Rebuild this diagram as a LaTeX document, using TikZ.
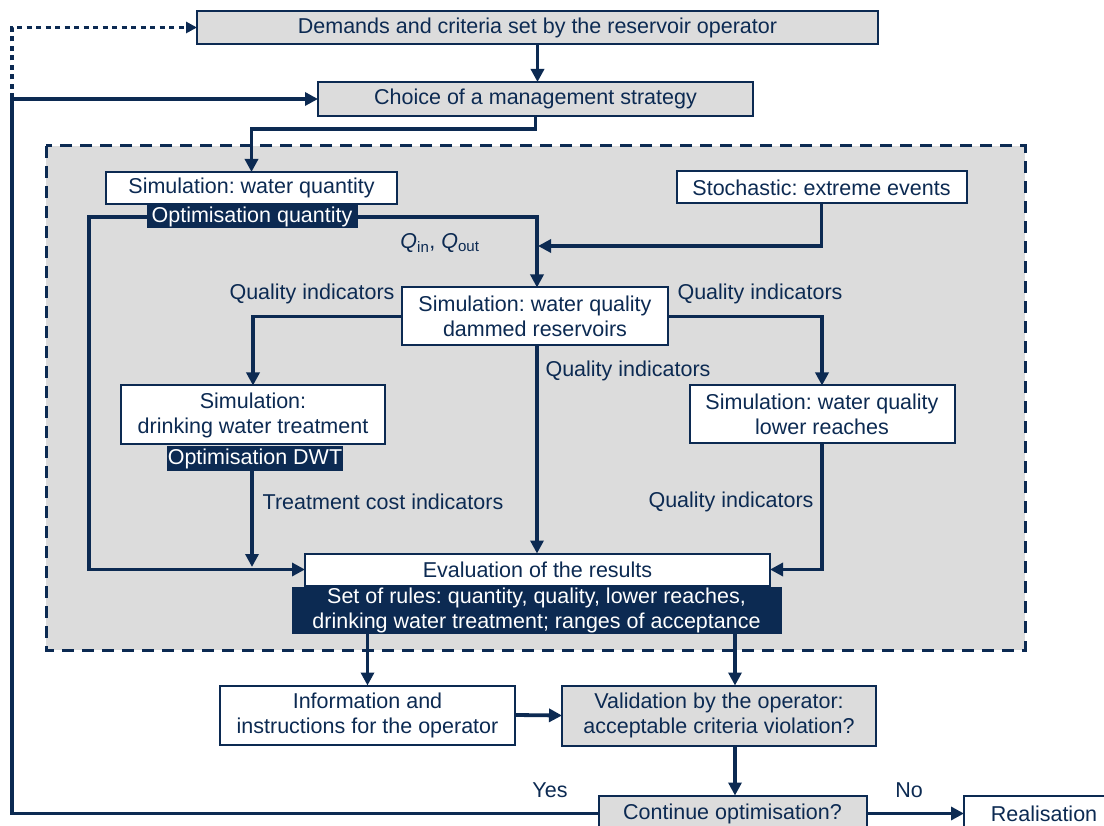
\documentclass[tikz,border=0pt]{standalone}
\usepackage{fontspec}
\setmainfont{Liberation Sans}
\usetikzlibrary{arrows.meta}
\definecolor{navy}{RGB}{12,42,82}
\definecolor{lgray}{RGB}{220,220,220}
\frenchspacing
\tikzset{
  box/.style={draw=navy, line width=2pt, text=navy, align=center, inner sep=0pt, outer sep=0pt},
  wbox/.style={box, fill=white},
  gbox/.style={box, fill=lgray},
  dbox/.style={fill=navy, text=white, align=center, inner sep=0pt, outer sep=0pt},
  conn/.style={draw=navy, line width=3.8pt},
  arr/.style={conn, -{Triangle[length=13pt,width=13pt]}},
  dotarr/.style={draw=navy, line width=3.8pt, dash pattern=on 5pt off 4.5pt, -{Triangle[length=11pt,width=11pt]}},
  lbl/.style={text=navy, inner sep=0pt}
}
\begin{document}
\begin{tikzpicture}[x=1pt,y=-1pt, font=\fontsize{21.5}{25}\selectfont]
\useasboundingbox (0,0) rectangle (1104,826);
\clip (0,0) rectangle (1104,826);
% dashed frame
\draw[fill=lgray, draw=navy, line width=3pt, dash pattern=on 12pt off 8pt] (46,146) rectangle (1025,650);

\node[gbox, minimum width=681pt, minimum height=33pt] (demands) at (537.5,27.5) {Demands and criteria set by the reservoir operator};
\node[gbox, minimum width=435pt, minimum height=34pt] (choice) at (535.5,99) {Choice of a management strategy};
\node[wbox, minimum width=291pt, minimum height=32pt] (simq) at (251.5,188) {Simulation: water quantity};
\node[dbox, minimum width=211pt, minimum height=23pt] (optq) at (252,217) {Optimisation quantity};
\node[wbox, minimum width=290pt, minimum height=32pt] (stoch) at (821.5,187.5) {Stochastic: extreme events};
\node[wbox, minimum width=266pt, minimum height=58pt] (simwq) at (535,316.5) {Simulation: water quality\\dammed reservoirs};
\node[wbox, minimum width=264pt, minimum height=59pt] (dwt) at (253,415) {Simulation:\\drinking water treatment};
\node[dbox, minimum width=176pt, minimum height=24pt] (optdwt) at (255,458.5) {Optimisation DWT};
\node[wbox, minimum width=265pt, minimum height=58pt] (lower) at (822,414.5) {Simulation: water quality\\lower reaches};
\node[wbox, minimum width=465pt, minimum height=32pt] (eval) at (537.5,569.5) {Evaluation of the results};
\node[dbox, minimum width=490pt, minimum height=47pt] (rules) at (536.5,610) {Set of rules: quantity, quality, lower reaches,\\drinking water treatment; ranges of acceptance};
\node[wbox, minimum width=295pt, minimum height=59pt] (info) at (367.5,715) {Information and\\instructions for the operator};
\node[gbox, minimum width=314pt, minimum height=60pt] (valid) at (719,715.5) {Validation by the operator:\\acceptable criteria violation?};
\node[gbox, minimum width=268pt, minimum height=36pt] (cont) at (732.5,813.5) {Continue optimisation?};
\node[wbox, minimum width=160pt, minimum height=36pt] (real) at (1044,813.5) {Realisation};

% labels
\node[lbl] (qio) at (440,243) {\textit{Q}\textsubscript{in}, \textit{Q}\textsubscript{out}};
\node[lbl] (ql1) at (312,294) {Quality indicators};
\node[lbl] (ql2) at (760,294) {Quality indicators};
\node[lbl] (ql3) at (628,371) {Quality indicators};
\node[lbl] (tci) at (383,502) {Treatment cost indicators};
\node[lbl] (ql4) at (731,502) {Quality indicators};
\node[lbl] (yes) at (550,790) {Yes};
\node[lbl] (no) at (909,790) {No};

% connectors
\coordinate (fbs) at (12,0);
\draw[dotarr] (cont.west) -| (fbs |- demands.west) -- (demands.west);
\draw[arr] (cont.west) -| (fbs |- choice.west) -- (choice.west);
\draw[arr] (demands.south) -- (demands.south |- choice.north);
\draw[arr] (choice.south) -- ++(0,13) -| (simq.north);
\coordinate (lx) at (89,0);
\draw[arr] (optq.west) -| (lx |- eval.west) -- (eval.west);
\coordinate (mx) at (537,0);
\draw[arr] (optq.east) -| (mx |- simwq.north);
\coordinate (qj) at (538,246);
\draw[arr] (stoch.south) |- (qj);
\draw[arr] (simwq.west) -| (dwt.north);
\draw[arr] (simwq.east) -| (lower.north);
\draw[arr] (mx |- simwq.south) -- (mx |- eval.north);
\coordinate (tx) at (252,567);
\draw[arr] (optdwt.south -| tx) -- (tx);
\draw[arr] (lower.south) |- (eval.east);
\draw[arr] (rules.south -| info.north) -- (info.north);
\coordinate (vx) at (735,0);
\draw[arr] (vx |- rules.south) -- (vx |- valid.north);
\draw[arr] (vx |- valid.south) -- (vx |- cont.north);
\draw[arr] (info.east) -- (valid.west);
\draw[arr] (cont.east) -- (real.west);
\end{tikzpicture}
\end{document}
